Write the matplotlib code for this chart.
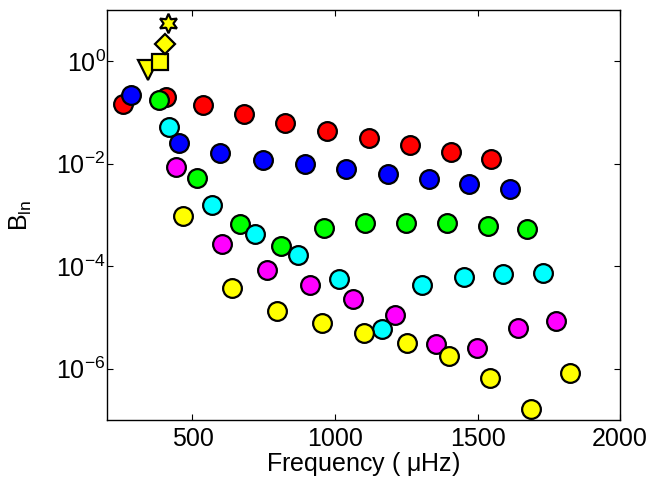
import numpy as np
import matplotlib
matplotlib.use('Agg')
import matplotlib.pyplot as plt
from matplotlib.ticker import NullLocator

plt.rcParams['font.family'] = ['Liberation Sans', 'DejaVu Sans']
plt.rcParams['mathtext.fontset'] = 'custom'
plt.rcParams['mathtext.rm'] = 'Liberation Sans'
plt.rcParams['mathtext.it'] = 'Liberation Sans:italic'

# frequencies (uHz) and amplitudes per series
f_red = [256, 406, 537, 680, 826, 971, 1118, 1262, 1407, 1547]
b_red = [0.145, 0.201, 0.141, 0.094, 0.0627, 0.0445, 0.0324, 0.0233, 0.0170, 0.0124]

f_blue = [285, 451, 596, 747, 893, 1039, 1185, 1330, 1470, 1613]
b_blue = [0.220, 0.0255, 0.0165, 0.0119, 0.00993, 0.00782, 0.00644, 0.00507, 0.00405, 0.00318]

f_green = [383, 515, 666, 811, 961, 1104, 1250, 1393, 1536, 1673]
b_green = [0.179, 5.22e-3, 6.62e-4, 2.46e-4, 5.61e-4, 6.92e-4, 7.03e-4, 6.92e-4, 6.14e-4, 5.44e-4]

f_cyan = [417, 567, 719, 869, 1013, 1164, 1304, 1451, 1589, 1730]
b_cyan = [0.0516, 1.55e-3, 4.22e-4, 1.69e-4, 5.60e-5, 6.01e-6, 4.28e-5, 6.31e-5, 7.11e-5, 7.43e-5]

f_mag = [442, 604, 761, 913, 1062, 1210, 1356, 1499, 1641, 1776]
b_mag = [8.69e-3, 2.69e-4, 8.38e-5, 4.34e-5, 2.31e-5, 1.13e-5, 3.11e-6, 2.52e-6, 6.28e-6, 8.73e-6]

f_yel = [467, 638, 798, 953, 1103, 1254, 1401, 1543, 1687, 1823]
b_yel = [9.48e-4, 3.85e-5, 1.35e-5, 7.87e-6, 5.02e-6, 3.21e-6, 1.79e-6, 6.46e-7, 1.63e-7, 8.09e-7]

# the four yellow symbols near the top
f_sym = [345, 387, 405, 415]
b_sym = [0.69, 0.97, 2.14, 5.65]
sym_markers = ['v', 's', 'D', (6, 1, 0)]
sym_sizes = [14, 11, 10, 14]

RED, BLUE, GREEN = (1, 0, 0), (0, 0, 1), (0, 1, 0)
CYAN, MAGENTA, YELLOW = (0, 1, 1), (1, 0, 1), (1, 1, 0)

fig = plt.figure(figsize=(6.62, 4.80), dpi=100)
ax = fig.add_axes([0.1616, 0.125, 0.775, 0.854])

series = [(f_red, b_red, RED), (f_blue, b_blue, BLUE), (f_green, b_green, GREEN),
          (f_cyan, b_cyan, CYAN), (f_mag, b_mag, MAGENTA), (f_yel, b_yel, YELLOW)]
for f, b, c in series:
    ax.plot(f, b, 'o', ms=13.5, mfc=c, mec='k', mew=1.6, ls='none')

for f, b, m, s in zip(f_sym, b_sym, sym_markers, sym_sizes):
    ax.plot([f], [b], marker=m, ms=s, mfc=YELLOW, mec='k', mew=1.6, ls='none')

ax.set_yscale('log')
ax.set_xlim(200, 2000)
ax.set_ylim(1e-7, 1e1)
ax.set_xticks([500, 1000, 1500, 2000])
ax.set_yticks([1e-6, 1e-4, 1e-2, 1e0])
ax.yaxis.set_minor_locator(NullLocator())
ax.tick_params(direction='in', length=4, width=0.8, top=True, right=True, labelsize=18)
ax.tick_params(axis='x', pad=5)
ax.tick_params(axis='y', pad=1)
for sp in ax.spines.values():
    sp.set_linewidth(1.0)

ax.set_xlabel(r'Frequency ( $\mathrm{\mu}$Hz)', fontsize=18, labelpad=-1)
ax.set_ylabel(r'B$_{\mathrm{ln}}$', fontsize=18, labelpad=16)

fig.savefig('out.png', dpi=100)
